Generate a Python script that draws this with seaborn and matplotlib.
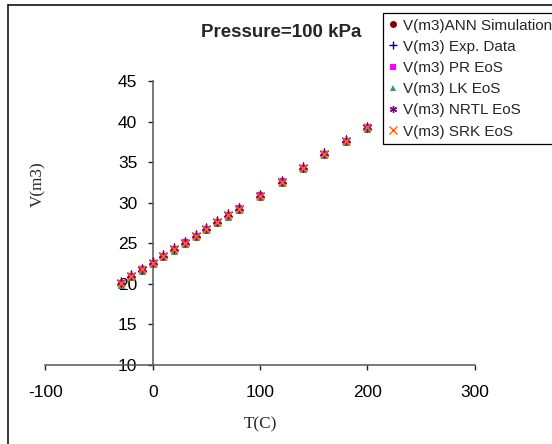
import matplotlib
matplotlib.use("Agg")
import matplotlib.pyplot as plt
import seaborn as sns
import pandas as pd
from matplotlib.lines import Line2D

# ---- data ----
temps = [-30, -20, -10, 0, 10, 20, 30, 40, 50, 60, 70, 80, 100, 120, 140, 160, 180, 200]
v_ann = [20.07, 20.97, 21.79, 22.61, 23.43, 24.26, 25.08, 25.90, 26.76, 27.63, 28.45, 29.27, 30.87, 32.60, 34.28, 36.00, 37.61, 39.29]
v_exp = [20.02, 20.92, 21.72, 22.55, 23.38, 24.20, 25.03, 25.85, 26.70, 27.58, 28.40, 29.22, 30.82, 32.55, 34.23, 35.95, 37.56, 39.24]
v_pr = [20.10, 20.98, 21.80, 22.63, 23.45, 24.28, 25.10, 25.92, 26.78, 27.65, 28.47, 29.29, 30.89, 32.62, 34.30, 36.02, 37.63, 39.31]
v_lk = [19.92, 20.82, 21.64, 22.46, 23.28, 24.11, 24.93, 25.75, 26.61, 27.48, 28.30, 29.12, 30.72, 32.45, 34.13, 35.85, 37.46, 39.14]
v_nrtl = [20.17, 21.07, 21.89, 22.71, 23.53, 24.36, 25.18, 26.00, 26.86, 27.73, 28.55, 29.37, 30.97, 32.70, 34.38, 36.10, 37.71, 39.39]
v_srk = [20.05, 20.95, 21.77, 22.59, 23.41, 24.24, 25.06, 25.88, 26.74, 27.61, 28.43, 29.25, 30.85, 32.58, 34.26, 35.98, 37.59, 39.27]

series_names = ["V(m3)ANN Simulation", "V(m3) Exp. Data", "V(m3) PR EoS",
                "V(m3) LK EoS", "V(m3) NRTL EoS", "V(m3) SRK EoS"]
series_values = [v_ann, v_exp, v_pr, v_lk, v_nrtl, v_srk]
x_ticks = [-100, 0, 100, 200, 300]
y_ticks = [10, 15, 20, 25, 30, 35, 40, 45]

title_text = "Pressure=100 kPa"
x_label = "T(C)"
y_label = "V(m3)"

# ---- styles ----
styles = [
    dict(marker="o", color="#800000", s=20, linewidth=0),
    dict(marker="+", color="#000080", s=36, linewidth=1.0),
    dict(marker="s", color="#FF00FF", s=22, linewidth=0),
    dict(marker="^", color="#339966", s=26, linewidth=0),
    dict(marker=(6, 2, 0), color="#800080", s=40, linewidth=1.0),
    dict(marker="x", color="#FF6600", s=30, linewidth=1.1),
]

sns.set_style("white")
plt.rcParams["font.family"] = ["Liberation Sans", "DejaVu Sans"]
plt.rcParams["axes.unicode_minus"] = False

W, H = 552, 444
fig = plt.figure(figsize=(W / 100, H / 100), dpi=100)
fig.patch.set_facecolor("white")

left_px, right_px = 45.4, 474.7
top_px, bot_px = 81.0, 365.0
ax = fig.add_axes([left_px / W, 1 - bot_px / H, (right_px - left_px) / W, (bot_px - top_px) / H])
ax.set_facecolor("white")

for name, vals, st in zip(series_names, series_values, styles):
    df = pd.DataFrame({"T": temps, "V": vals})
    sns.scatterplot(data=df, x="T", y="V", ax=ax, marker=st["marker"], color=st["color"],
                    s=st["s"], linewidth=st["linewidth"], edgecolor=st["color"], label=name,
                    legend=False, zorder=3)

ax.set_xlim(-100, 300)
ax.set_ylim(10, 45)
ax.set_xticks(x_ticks)
ax.set_yticks(y_ticks)
ax.set_xlabel("")
ax.set_ylabel("")

for sp in ["top", "right"]:
    ax.spines[sp].set_visible(False)
ax.spines["left"].set_position(("data", 0))
for sp in ["left", "bottom"]:
    ax.spines[sp].set_color("#555555")
    ax.spines[sp].set_linewidth(1.1)

ax.tick_params(axis="both", direction="out", length=3.6, width=1.0, color="#222222",
               labelsize=12.5, labelcolor="black")
ax.tick_params(axis="x", pad=11)
ax.tick_params(axis="y", pad=7.5)
ax.tick_params(left=True, bottom=True)

# axis labels (serif)
fig.text(260.5 / W, 1 - 424 / H, x_label, family=["Liberation Serif", "DejaVu Serif"],
         fontsize=12.3, ha="center", va="center")
fig.text(38 / W, 1 - 184 / H, y_label, family=["Liberation Serif", "DejaVu Serif"],
         fontsize=12.3, ha="center", va="center", rotation=90)

# title
fig.text(280.7 / W, 1 - 32.5 / H, title_text, fontsize=13.5, fontweight="bold",
         ha="center", va="center")

# legend
handles = []
for name, st in zip(series_names, styles):
    handles.append(Line2D([], [], linestyle="none", marker=st["marker"], color=st["color"],
                          markersize=5 if st["marker"] not in ("+", "x") else 6,
                          markeredgewidth=1.0 if st["marker"] in ("+", "x") or isinstance(st["marker"], tuple) else 0,
                          label=name))
leg = fig.legend(handles=handles, loc="upper left", bbox_to_anchor=(383.3 / W, 1 - 13.3 / H),
                 fontsize=11, frameon=True, fancybox=False, edgecolor="black", framealpha=1,
                 handlelength=0.6, handletextpad=0.35, labelspacing=0.47, borderpad=0.35,
                 borderaxespad=0)
leg.get_frame().set_linewidth(0.9)

# outer chart border (top and left edges visible)
fig.add_artist(Line2D([7.5 / W, 1.0], [1 - 5 / H, 1 - 5 / H], transform=fig.transFigure,
                      color="black", linewidth=1.1))
fig.add_artist(Line2D([7.5 / W, 7.5 / W], [0, 1 - 5 / H], transform=fig.transFigure,
                      color="black", linewidth=1.1))

fig.savefig("out.png", dpi=100, facecolor="white")
